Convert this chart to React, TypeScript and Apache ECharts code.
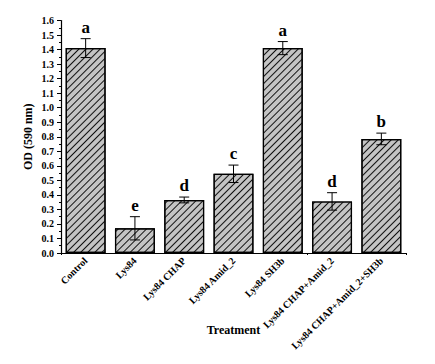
import React, { useEffect, useRef } from "react";
import * as echarts from "echarts";

const categories = [
  "Control",
  "Lys84",
  "Lys84 CHAP",
  "Lys84 Amid_2",
  "Lys84 SH3b",
  "Lys84 CHAP+Amid_2",
  "Lys84 CHAP+Amid_2+SH3b",
];
const odValues = [1.41, 0.17, 0.365, 0.545, 1.41, 0.355, 0.785];
const odErrors = [0.065, 0.08, 0.02, 0.06, 0.045, 0.06, 0.04];
const groupLetters = ["a", "e", "d", "c", "a", "d", "b"];

const FONT = "'Liberation Serif', 'Times New Roman', serif";

export default function App() {
  const ref = useRef<HTMLDivElement>(null);
  useEffect(() => {
    if (!ref.current) return;
    const chart = echarts.init(ref.current, null, { renderer: "svg" });
    const errData = categories.map((_, i) => [i, odValues[i], odErrors[i], i]);
    chart.setOption({
      animation: false,
      grid: { left: 61, right: 29, top: 20.5, bottom: 111, containLabel: false },
      xAxis: [
        {
          type: "category",
          position: "bottom",
          data: categories,
          name: "Treatment",
          nameLocation: "middle",
          nameGap: 71,
          nameMoveOverlap: false,
          nameTextStyle: { fontFamily: FONT, fontWeight: "bold", fontSize: 12, color: "#000" },
          axisLine: { lineStyle: { color: "#000", width: 1.2 } },
          axisTick: { alignWithLabel: true, length: 5, lineStyle: { color: "#000", width: 1 } },
          axisLabel: {
            rotate: 45,
            interval: 0,
            margin: 6,
            fontFamily: FONT,
            fontWeight: "bold",
            fontSize: 10,
            color: "#000",
          },
        },
        {
          type: "category",
          position: "bottom",
          data: categories,
          axisLine: { show: false },
          axisTick: { show: true, length: 2, lineStyle: { color: "#000", width: 1 } },
          axisLabel: { show: false },
        },
      ],
      yAxis: {
        type: "value",
        min: 0,
        max: 1.6,
        interval: 0.1,
        name: "OD (590 nm)",
        nameLocation: "middle",
        nameGap: 27,
        nameMoveOverlap: false,
        nameTextStyle: { fontFamily: FONT, fontWeight: "bold", fontSize: 12, color: "#000" },
        axisLine: { show: true, lineStyle: { color: "#000", width: 1.2 } },
        axisTick: { show: true, length: 4, lineStyle: { color: "#000", width: 1 } },
        minorTick: { show: true, splitNumber: 2, length: 2, lineStyle: { color: "#000", width: 1 } },
        splitLine: { show: false },
        axisLabel: {
          margin: 7,
          fontFamily: FONT,
          fontWeight: "bold",
          fontSize: 10,
          color: "#000",
          formatter: (v: number) => v.toFixed(1),
        },
      },
      series: [
        {
          type: "bar",
          data: odValues,
          barWidth: "81%",
          itemStyle: {
            color: "#c4c4c4",
            borderColor: "#000",
            borderWidth: 1.2,
            decal: {
              symbol: "rect",
              symbolSize: 1,
              dashArrayX: [[1, 0]],
              dashArrayY: [0.9, 3.6],
              rotation: -Math.PI / 4,
              color: "#111",
            },
          },
        },
        {
          type: "custom",
          data: errData,
          z: 10,
          renderItem: (params: any, api: any) => {
            const idx = api.value(0);
            const v = api.value(1);
            const e = api.value(2);
            const top = api.coord([idx, v + e]);
            const bot = api.coord([idx, v - e]);
            const cap = 5;
            const st = { stroke: "#000", lineWidth: 1 };
            return {
              type: "group",
              children: [
                { type: "line", shape: { x1: top[0], y1: top[1], x2: bot[0], y2: bot[1] }, style: st },
                { type: "line", shape: { x1: top[0] - cap, y1: top[1], x2: top[0] + cap, y2: top[1] }, style: st },
                { type: "line", shape: { x1: bot[0] - cap, y1: bot[1], x2: bot[0] + cap, y2: bot[1] }, style: st },
                {
                  type: "text",
                  x: top[0],
                  y: top[1] - 3,
                  style: {
                    text: groupLetters[params.dataIndex],
                    fontFamily: FONT,
                    fontWeight: "bold",
                    fontSize: 17,
                    fill: "#000",
                    align: "center",
                    verticalAlign: "bottom",
                  },
                },
              ],
            };
          },
        },
      ],
    });
    return () => chart.dispose();
  }, []);
  return <div ref={ref} style={{ width: 435, height: 364, position: "absolute", left: 0, top: 0 }} />;
}
